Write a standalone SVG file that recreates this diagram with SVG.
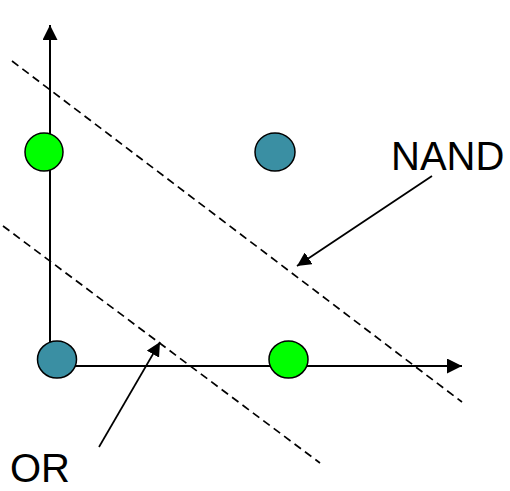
<svg xmlns="http://www.w3.org/2000/svg" width="510" height="491" viewBox="0 0 510 491">
<style>
.axis{stroke:#000;stroke-width:2;fill:none}
.dash{stroke:#000;stroke-width:1.7;stroke-dasharray:8,5;fill:none}
.ptr{stroke:#000;stroke-width:1.7;fill:none}
.g{fill:#00FF00;stroke:#000;stroke-width:1.5}
.b{fill:#3A8FA3;stroke:#000;stroke-width:1.5}
.lbl{font-family:"Liberation Sans",Arial,sans-serif;font-size:40px;fill:#000}
</style>
<defs>
<marker id="ah" viewBox="0 0 10 10" refX="10" refY="5" markerWidth="15" markerHeight="15" markerUnits="userSpaceOnUse" orient="auto">
<path d="M0,0 L10,5 L0,10 Z" fill="#000"/>
</marker>
<marker id="ah2" viewBox="0 0 10 10" refX="10" refY="5" markerWidth="14" markerHeight="14" markerUnits="userSpaceOnUse" orient="auto">
<path d="M0,0 L10,5 L0,10 Z" fill="#000"/>
</marker>
</defs>
<g id="connectors">
<line class="axis" x1="50" y1="366" x2="50" y2="25" marker-end="url(#ah)"/>
<line class="axis" x1="50" y1="366" x2="462" y2="366" marker-end="url(#ah)"/>
<line class="dash" x1="12" y1="61" x2="462" y2="402"/>
<line class="dash" x1="3" y1="226" x2="320" y2="463"/>
<line class="ptr" x1="432" y1="176" x2="297" y2="266" marker-end="url(#ah2)"/>
<line class="ptr" x1="99" y1="447" x2="160" y2="342" marker-end="url(#ah2)"/>
</g>
<g id="p01"><ellipse class="g" cx="44" cy="152" rx="19" ry="19"/></g>
<g id="p11"><ellipse class="b" cx="275" cy="152" rx="20" ry="19"/></g>
<g id="p00"><ellipse class="b" cx="57" cy="359.5" rx="19.5" ry="18.5"/></g>
<g id="p10"><ellipse class="g" cx="288.5" cy="359.5" rx="19.5" ry="18.5"/></g>
<g id="nand"><text class="lbl" x="391" y="170" font-size="41">NAND</text></g>
<g id="or"><text class="lbl" x="10" y="482" font-size="38">OR</text></g>
</svg>
